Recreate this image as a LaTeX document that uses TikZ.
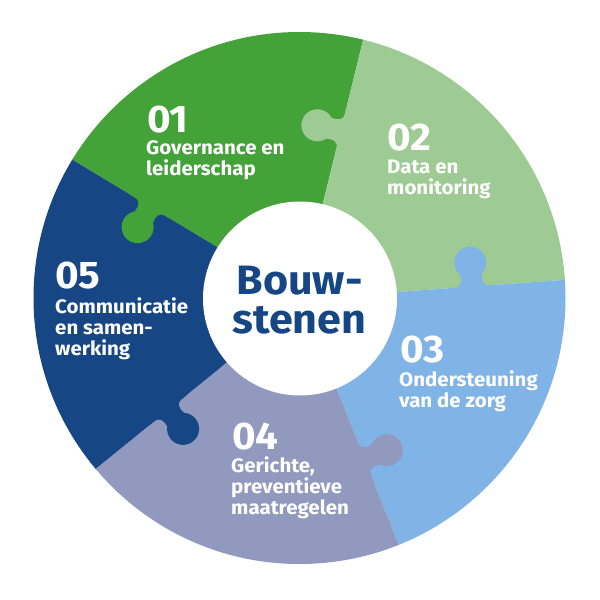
\documentclass[tikz,border=0pt]{standalone}
\usepackage{fontspec}
\setmainfont{Fira Sans}[FakeStretch=1.05]
\definecolor{grn}{HTML}{43A338}
\definecolor{lgrn}{HTML}{9DCB93}
\definecolor{lblue}{HTML}{80B4E6}
\definecolor{lilac}{HTML}{9299BF}
\definecolor{navy}{HTML}{164683}
\tikzset{
	numtxt/.style={anchor=base west,inner sep=0pt,text=white,font=\fontsize{38.5}{38.5}\selectfont\bfseries},
	lbltxt/.style={anchor=north west,inner sep=0pt,align=left,text=white,font=\fontsize{19.5}{21}\selectfont\bfseries}
}
\begin{document}
\begin{tikzpicture}[x=1pt,y=-1pt,line join=round,line cap=round]
	\def\cx{299.5} \def\cy{298} \def\rout{266} \def\rin{97}
	\useasboundingbox (0,0) rectangle (600,600);
	\fill[white] (0,0) rectangle (600,600);
	\begin{scope}
		\clip (\cx,\cy) circle (\rout);
		% sectors
		\fill[grn] (\cx,\cy)--(217,247)--(48,145)--(100,0)--(370,12)--(323,203)--cycle;
		\fill[lgrn] (\cx,\cy)--(323,203)--(370,12)--(590,20)--(590,278)--(397,292)--cycle;
		\fill[lblue] (\cx,\cy)--(397,292)--(590,278)--(590,560)--(408,568)--(338,392)--cycle;
		\fill[lilac] (\cx,\cy)--(338,392)--(408,568)--(200,610)--(72,488)--(220,368)--cycle;
		\fill[navy] (\cx,\cy)--(220,368)--(72,488)--(0,480)--(0,130)--(48,145)--(217,247)--cycle;
		% knobs
		\foreach \kx/\ky/\krot/\kcol in {340.7/131/76.2/lgrn,472/286.6/4.15/lblue,364.6/459/-68.3/lilac,168/410.2/219/navy,150/206.6/148.9/grn}{
			\begin{scope}[shift={(\kx,\ky)},rotate=\krot]
				\fill[\kcol] (-24,2)--(-24,0)--(-17,0).. controls (-12,0) and (-9,-5)..(-11,-12)--(11,-12).. controls (9,-5) and (12,0)..(17,0)--(24,0)--(24,2)--cycle;
				\fill[\kcol] (0,-24) circle (16);
			\end{scope}
		}
	\end{scope}
	\fill[white] (300,298.5) circle (\rin);
	\node (title) at (299.5,300) [align=center,text=navy,font=\fontsize{41}{39}\selectfont\bfseries]{Bouw-\\stenen};
	\node (num1) at (147,132) [numtxt]{01};
	\node (lbl1) at (146,140) [lbltxt]{Governance en\\leiderschap};
	\node (num2) at (387,150) [numtxt]{02};
	\node (lbl2) at (387,160) [lbltxt]{Data en\\monitoring};
	\node (num3) at (400,362) [numtxt]{03};
	\node (lbl3) at (399,370) [lbltxt]{Ondersteuning\\van de zorg};
	\node (num4) at (232,449) [numtxt]{04};
	\node (lbl4) at (231,456) [lbltxt]{Gerichte,\\preventieve\\maatregelen};
	\node (num5) at (55,288) [numtxt]{05};
	\node (lbl5) at (55,297) [lbltxt]{Communicatie\\en samen-\\werking};
\end{tikzpicture}
\end{document}
